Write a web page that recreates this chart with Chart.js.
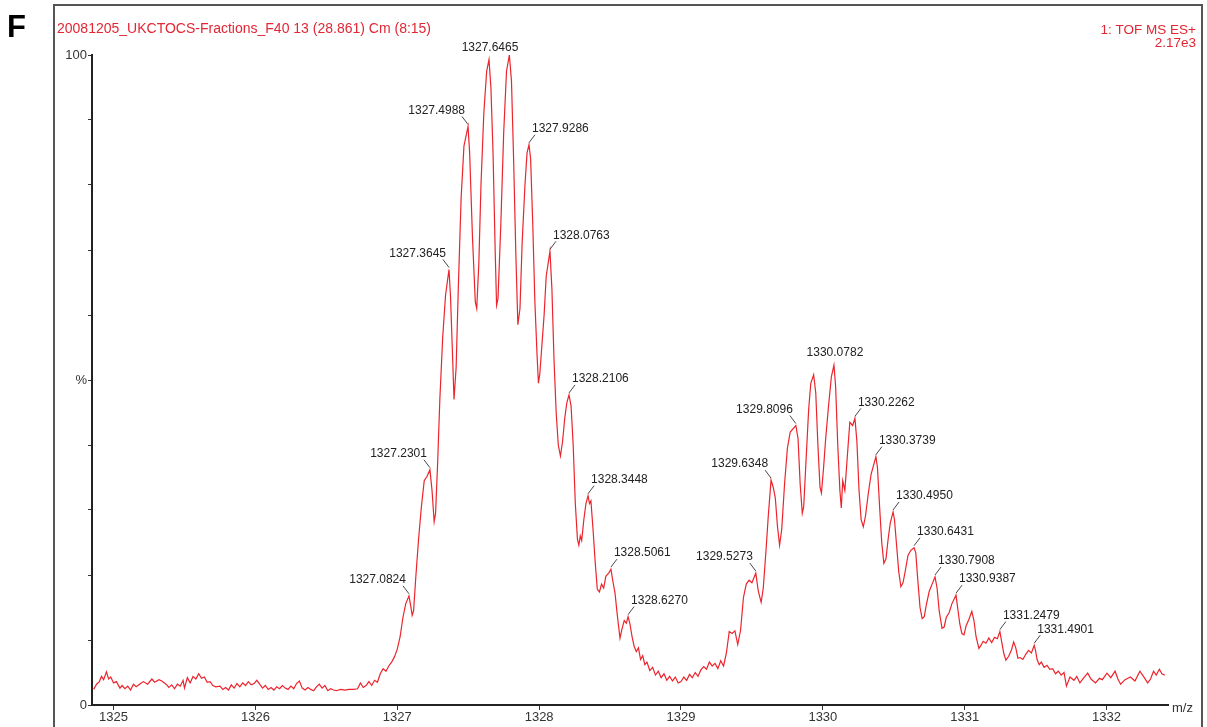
<!DOCTYPE html>
<html>
<head>
<meta charset="utf-8">
<script src="https://cdn.jsdelivr.net/npm/chart.js@4.4.1/dist/chart.umd.min.js"></script>
<style>
html,body{margin:0;padding:0;background:#fff;}
#c{display:block;}
</style>
</head>
<body>
<canvas id="c" width="1207" height="727"></canvas>
<script>
// ---- data ----
const mz = [
1324.86,1324.88,1324.90,1324.915,1324.93,1324.95,1324.965,1324.98,1325.00,1325.02,1325.045,1325.06,1325.08,1325.10,1325.12,1325.14,1325.16,1325.19,1325.21,1325.24,1325.27,1325.29,1325.32,1325.34,1325.37,1325.39,1325.41,1325.43,1325.45,1325.47,1325.49,1325.50,1325.52,1325.54,1325.56,1325.58,1325.60,1325.62,1325.64,1325.66,1325.68,1325.70,1325.72,1325.75,1325.77,1325.79,1325.81,1325.83,1325.85,1325.87,1325.89,1325.91,1325.93,1325.95,1325.97,1325.99,1326.01,1326.03,1326.05,1326.07,1326.09,1326.11,1326.13,1326.15,1326.17,1326.19,1326.21,1326.23,1326.25,1326.27,1326.29,1326.31,1326.33,1326.35,1326.37,1326.39,1326.41,1326.43,1326.45,1326.47,1326.49,1326.51,1326.53,1326.55,1326.57,1326.60,1326.63,1326.66,1326.69,1326.72,1326.74,1326.76,1326.78,1326.80,1326.82,1326.84,1326.86,1326.88,1326.90,1326.92,1326.94,1326.96,1326.98,1327.00,1327.02,1327.04,1327.06,1327.0824,1327.095,1327.105,1327.115,1327.13,1327.15,1327.17,1327.19,1327.21,1327.2301,1327.245,1327.26,1327.27,1327.285,1327.30,1327.32,1327.34,1327.3645,1327.375,1327.39,1327.40,1327.415,1327.43,1327.45,1327.47,1327.4988,1327.51,1327.53,1327.55,1327.56,1327.575,1327.59,1327.61,1327.63,1327.6465,1327.66,1327.675,1327.69,1327.70,1327.71,1327.73,1327.75,1327.77,1327.79,1327.805,1327.82,1327.835,1327.85,1327.865,1327.88,1327.90,1327.915,1327.9286,1327.94,1327.955,1327.97,1327.985,1327.995,1328.005,1328.02,1328.035,1328.05,1328.0763,1328.09,1328.105,1328.12,1328.135,1328.15,1328.165,1328.18,1328.195,1328.2106,1328.225,1328.24,1328.255,1328.27,1328.28,1328.29,1328.30,1328.315,1328.33,1328.3448,1328.355,1328.365,1328.38,1328.395,1328.41,1328.425,1328.44,1328.455,1328.47,1328.49,1328.5061,1328.52,1328.535,1328.55,1328.57,1328.585,1328.60,1328.615,1328.627,1328.64,1328.655,1328.67,1328.685,1328.70,1328.715,1328.73,1328.745,1328.76,1328.78,1328.80,1328.82,1328.84,1328.86,1328.88,1328.90,1328.92,1328.94,1328.96,1328.98,1329.00,1329.02,1329.04,1329.06,1329.08,1329.10,1329.12,1329.14,1329.16,1329.18,1329.20,1329.22,1329.24,1329.26,1329.28,1329.30,1329.32,1329.34,1329.36,1329.38,1329.40,1329.42,1329.44,1329.46,1329.48,1329.50,1329.5273,1329.545,1329.565,1329.58,1329.60,1329.615,1329.6348,1329.65,1329.665,1329.68,1329.695,1329.71,1329.73,1329.75,1329.77,1329.8096,1329.825,1329.84,1329.855,1329.865,1329.88,1329.90,1329.915,1329.935,1329.95,1329.965,1329.98,1329.99,1330.005,1330.02,1330.04,1330.06,1330.0782,1330.09,1330.105,1330.12,1330.13,1330.14,1330.155,1330.17,1330.19,1330.21,1330.2262,1330.24,1330.255,1330.27,1330.285,1330.30,1330.32,1330.34,1330.3739,1330.385,1330.40,1330.415,1330.43,1330.445,1330.46,1330.475,1330.495,1330.505,1330.52,1330.535,1330.55,1330.565,1330.58,1330.60,1330.62,1330.6431,1330.655,1330.67,1330.685,1330.70,1330.715,1330.73,1330.75,1330.77,1330.7908,1330.805,1330.82,1330.84,1330.855,1330.87,1330.89,1330.91,1330.9387,1330.95,1330.965,1330.98,1330.995,1331.01,1331.03,1331.05,1331.065,1331.08,1331.10,1331.115,1331.13,1331.15,1331.17,1331.19,1331.21,1331.23,1331.2479,1331.26,1331.275,1331.29,1331.31,1331.33,1331.345,1331.36,1331.375,1331.39,1331.41,1331.43,1331.45,1331.47,1331.4901,1331.50,1331.51,1331.525,1331.54,1331.56,1331.58,1331.60,1331.62,1331.64,1331.66,1331.68,1331.70,1331.717,1331.742,1331.77,1331.79,1331.812,1331.84,1331.867,1331.89,1331.922,1331.95,1331.97,1332.003,1332.03,1332.06,1332.08,1332.099,1332.13,1332.168,1332.20,1332.235,1332.26,1332.29,1332.31,1332.331,1332.35,1332.372,1332.39,1332.41
];
const intensity = [
2.4,3.2,3.6,4.4,3.9,5.1,4.0,4.3,3.4,3.6,2.6,3.0,2.5,2.9,2.3,3.2,2.8,3.3,3.6,3.2,4.0,3.5,3.9,3.7,3.2,2.7,3.1,2.5,3.2,2.9,3.8,2.6,4.2,3.4,4.4,4.0,4.8,4.1,4.3,3.5,3.6,3.0,2.8,2.9,2.4,2.7,2.3,3.1,2.6,3.3,2.8,3.4,3.0,3.6,3.1,3.3,3.8,3.2,2.6,3.0,2.4,2.7,2.3,2.8,2.5,3.0,2.6,2.4,2.9,2.5,3.3,3.7,2.6,2.3,2.7,2.4,2.2,2.8,3.2,2.6,3.0,2.2,2.5,2.3,2.2,2.4,2.3,2.4,2.4,2.5,3.4,2.7,3.0,3.6,3.0,3.8,3.5,4.8,5.6,5.2,6.0,6.6,7.4,8.6,10.5,13.5,15.6,16.8,15.2,13.8,14.5,19.5,25.5,30.5,34.5,35.2,36.2,33.0,28.2,29.5,37.5,47.0,56.5,63.0,67.0,63.0,53.5,47.0,52.0,64.0,78.0,86.0,89.0,85.0,72.0,62.0,61.0,68.0,80.0,91.0,97.5,99.3,95.0,85.0,70.0,61.5,62.5,74.0,88.0,97.5,100.0,96.0,84.0,70.0,58.5,61.0,71.0,80.0,85.0,86.2,84.0,74.0,62.0,54.0,49.5,51.0,55.5,60.0,66.0,69.8,64.0,53.0,45.0,40.0,38.3,40.5,44.0,46.5,47.7,46.0,40.0,31.0,25.5,24.6,26.0,25.3,28.5,31.0,32.2,31.0,31.4,27.0,22.0,17.8,17.4,18.6,18.0,19.8,20.3,20.9,19.0,17.2,14.0,10.3,11.8,13.0,12.6,13.6,12.5,10.5,9.0,8.2,8.8,7.0,7.6,6.2,6.6,5.3,5.8,4.6,5.2,4.2,4.8,3.8,4.4,3.7,4.3,3.4,3.6,4.3,3.8,4.7,4.2,5.0,4.4,5.4,5.9,5.5,6.6,6.0,6.4,5.6,6.8,6.0,8.0,11.3,11.0,11.4,9.3,11.5,16.5,18.6,19.2,18.8,20.3,17.5,15.8,18.0,24.0,29.0,34.6,33.5,31.8,27.5,24.6,27.0,34.0,39.5,42.0,43.0,41.0,34.0,29.5,30.5,37.0,45.5,49.5,50.8,48.0,40.0,33.5,32.6,36.5,41.0,46.0,50.5,52.3,49.0,40.0,33.0,30.3,34.5,33.0,37.5,43.5,43.0,44.1,40.5,33.0,28.5,27.4,29.0,32.5,35.5,38.2,36.5,30.5,25.0,21.8,22.5,25.5,28.0,29.7,28.5,24.5,20.5,18.2,18.8,20.5,23.0,23.8,24.2,23.4,19.0,15.0,13.3,13.6,15.5,17.5,18.6,19.7,18.0,14.5,11.8,12.0,13.5,14.2,15.6,16.9,15.0,12.5,11.0,10.8,12.2,13.2,14.4,13.0,10.5,8.7,9.2,9.8,9.5,10.3,9.6,10.4,10.2,11.3,9.8,8.0,6.9,7.5,8.5,9.7,8.8,7.2,7.3,7.0,7.8,8.4,8.0,9.2,8.3,7.0,6.2,6.6,5.8,6.1,5.5,5.6,4.8,5.2,4.6,5.0,2.9,4.3,3.8,4.4,3.4,4.2,4.9,4.0,3.4,4.1,3.9,4.9,4.2,5.2,4.0,3.2,3.9,4.3,3.7,5.2,4.4,3.4,4.0,5.2,4.6,5.5,4.8,4.6
];
const peakLabels = ["1327.0824","1327.2301","1327.3645","1327.4988","1327.6465","1327.9286","1328.0763","1328.2106","1328.3448","1328.5061","1328.6270",
"1329.5273","1329.6348","1329.8096","1330.0782","1330.2262","1330.3739","1330.4950","1330.6431","1330.7908","1330.9387","1331.2479","1331.4901"];
const apexLabels = ["1327.6465","1330.0782"];
const xTickValues = [1325,1326,1327,1328,1329,1330,1331,1332];
const yTickValues = [0,10,20,30,40,50,60,70,80,90,100];
const yTickText = {0:"0",50:"%",100:"100"};
const titleText = "20081205_UKCTOCS-Fractions_F40 13 (28.861) Cm (8:15)";
const instrumentText = "1: TOF MS ES+";
const scaleText = "2.17e3";
const xUnitText = "m/z";
const panelLetter = "F";

// ---- drawing ----
const points = mz.map((x,i)=>({x:x, y:intensity[i]}));

function valueAt(m){
  let best=0, bd=1e9;
  for(let i=0;i<mz.length;i++){const d=Math.abs(mz[i]-m); if(d<bd){bd=d;best=i;}}
  return intensity[best];
}

const decor = {
  id:'decor',
  afterDraw(chart){
    const ctx = chart.ctx;
    const xs = chart.scales.x, ys = chart.scales.y;
    ctx.save();
    // outer frame
    ctx.strokeStyle = '#555'; ctx.lineWidth = 2;
    ctx.strokeRect(54,5,1148,740);
    // panel letter
    ctx.fillStyle = '#000';
    ctx.font = 'bold 31px "Liberation Sans", Arial, sans-serif';
    ctx.textAlign='left'; ctx.textBaseline='alphabetic';
    ctx.fillText(panelLetter, 7, 37);
    // title
    ctx.fillStyle = 'rgb(226,38,52)';
    ctx.font = '14px "Liberation Sans", Arial, sans-serif';
    ctx.textBaseline='middle';
    ctx.fillText(titleText, 57, 29);
    ctx.font = '13.5px "Liberation Sans", Arial, sans-serif';
    ctx.textAlign='right';
    ctx.fillText(instrumentText, 1196, 30);
    ctx.fillText(scaleText, 1196, 43);
    // m/z
    ctx.fillStyle = '#333';
    ctx.font = '13px "Liberation Sans", Arial, sans-serif';
    ctx.textAlign='left'; ctx.textBaseline='middle';
    ctx.fillText(xUnitText, 1172, 708);
    // peak labels
    ctx.font = '12px "Liberation Sans", Arial, sans-serif';
    ctx.strokeStyle = '#333'; ctx.lineWidth = 0.9;
    peakLabels.forEach(lbl=>{
      const m = parseFloat(lbl);
      const px = xs.getPixelForValue(m), py = ys.getPixelForValue(valueAt(m));
      const cluster = m < 1329 ? 0 : 1;
      const apex = parseFloat(apexLabels[cluster]);
      const side = Math.abs(m-apex)<1e-6 ? 0 : (m<apex ? -1 : 1);
      ctx.fillStyle = '#222';
      ctx.textBaseline='middle';
      if(side===0){
        ctx.textAlign='center';
        ctx.fillText(lbl, px+1, py-12);
      } else {
        ctx.beginPath();
        ctx.moveTo(px, py-2);
        ctx.lineTo(px+side*6, py-10);
        ctx.stroke();
        ctx.textAlign = side<0 ? 'right' : 'left';
        ctx.fillText(lbl, px+side*3, py-16);
      }
    });
    ctx.restore();
  }
};

new Chart(document.getElementById('c'), {
  type:'line',
  data:{datasets:[{data:points, borderColor:'rgb(236,36,44)', borderWidth:1.2, pointRadius:0, tension:0, fill:false}]},
  options:{
    responsive:false, animation:false,
    layout:{padding:{left:0, top:55, right:39, bottom:0}},
    plugins:{legend:{display:false}, tooltip:{enabled:false}},
    scales:{
      x:{type:'linear', min:1324.848, max:1332.433,
        afterBuildTicks(s){ s.ticks = xTickValues.map(v=>({value:v})); },
        afterFit(s){ s.height = 22; },
        ticks:{color:'#333', font:{size:13, family:'"Liberation Sans", Arial, sans-serif'}, padding:0, maxRotation:0, autoSkip:false,
          callback:(v)=>String(v)},
        grid:{drawOnChartArea:false, drawTicks:true, tickLength:5, color:'#333', lineWidth:1},
        border:{display:true, color:'#222', width:2}
      },
      y:{type:'linear', min:0, max:100,
        afterBuildTicks(s){ s.ticks = yTickValues.map(v=>({value:v})); },
        afterFit(s){ s.width = 92; },
        ticks:{color:'#333', font:{size:13, family:'"Liberation Sans", Arial, sans-serif'}, padding:1, autoSkip:false,
          callback:(v)=> (yTickText[v]!==undefined ? yTickText[v] : '')},
        grid:{drawOnChartArea:false, drawTicks:true, tickLength:4, color:'#333', lineWidth:1},
        border:{display:true, color:'#222', width:2}
      }
    }
  },
  plugins:[decor]
});
</script>
</body>
</html>
